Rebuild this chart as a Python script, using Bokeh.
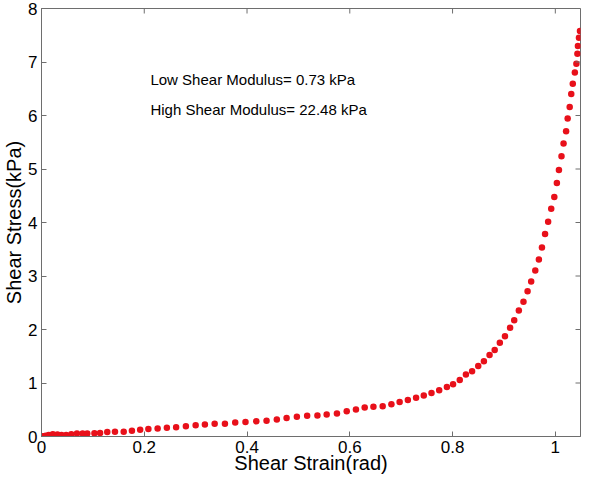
from bokeh.plotting import figure
from bokeh.models import Label, FixedTicker, ColumnDataSource
from bokeh.embed import file_html
from bokeh.resources import INLINE

strain = [0, 0.003, 0.008, 0.014, 0.022, 0.031, 0.039, 0.048, 0.058, 0.069,
          0.080, 0.089, 0.103, 0.114, 0.128, 0.143, 0.160, 0.176, 0.192, 0.208,
          0.226, 0.244, 0.262, 0.281, 0.300, 0.318, 0.337, 0.357, 0.377, 0.397,
          0.418, 0.438, 0.458, 0.477, 0.497, 0.517, 0.537, 0.555, 0.575, 0.594,
          0.612, 0.629, 0.646, 0.664, 0.681, 0.697, 0.713, 0.729, 0.744, 0.759,
          0.774, 0.789, 0.801, 0.814, 0.826, 0.838, 0.850, 0.861, 0.872, 0.882,
          0.892, 0.902, 0.912, 0.920, 0.929, 0.938, 0.946, 0.953, 0.961, 0.968,
          0.974, 0.980, 0.986, 0.992, 0.998, 1.003, 1.007, 1.012, 1.016, 1.021,
          1.024, 1.028, 1.031, 1.034, 1.038, 1.041, 1.043, 1.044, 1.046, 1.048]
stress = [0, 0.005, 0.012, 0.030, 0.042, 0.036, 0.030, 0.030, 0.042, 0.054,
          0.054, 0.054, 0.060, 0.066, 0.085, 0.091, 0.091, 0.109, 0.127, 0.139,
          0.151, 0.163, 0.175, 0.193, 0.211, 0.223, 0.236, 0.236, 0.260, 0.272,
          0.284, 0.296, 0.320, 0.344, 0.368, 0.386, 0.393, 0.411, 0.429, 0.471,
          0.507, 0.543, 0.556, 0.567, 0.604, 0.646, 0.682, 0.725, 0.767, 0.815,
          0.864, 0.924, 0.978, 1.057, 1.160, 1.220, 1.316, 1.407, 1.522, 1.618,
          1.751, 1.872, 2.035, 2.174, 2.355, 2.518, 2.717, 2.899, 3.104, 3.309,
          3.533, 3.786, 4.016, 4.257, 4.475, 4.740, 4.982, 5.236, 5.477, 5.707,
          5.942, 6.159, 6.401, 6.594, 6.806, 6.968, 7.156, 7.301, 7.452, 7.578]

x_ticks = [0, 0.2, 0.4, 0.6, 0.8, 1]
y_ticks = [0, 1, 2, 3, 4, 5, 6, 7, 8]
annotations = ["Low Shear Modulus= 0.73 kPa", "High Shear Modulus= 22.48 kPa"]

FONT = "Liberation Sans"
AXIS_GRAY = "#6e6e6e"
X_MAX = 1.049
Y_MAX = 8

p = figure(width=584, height=476, x_range=(0, X_MAX), y_range=(0, Y_MAX),
           output_backend="svg", toolbar_location=None,
           min_border_left=0, min_border_right=4, min_border_top=8,
           min_border_bottom=0)
p.grid.visible = False
p.outline_line_color = AXIS_GRAY
p.background_fill_color = "white"
p.border_fill_color = "white"

src = ColumnDataSource(dict(x=strain, y=stress))
p.scatter("x", "y", source=src, size=6.5, fill_color="#e8101a",
          line_color=None)

# box ticks on the top and right edges (MATLAB style), clipped to the frame
p.scatter(x_ticks, [Y_MAX] * len(x_ticks), marker="dash", angle=1.5708,
          size=10, line_color=AXIS_GRAY, line_width=1)
p.scatter([X_MAX] * len(y_ticks), y_ticks, marker="dash",
          size=10, line_color=AXIS_GRAY, line_width=1)

xa = p.xaxis[0]
ya = p.yaxis[0]
for ax in (xa, ya):
    ax.axis_line_color = AXIS_GRAY
    ax.major_tick_line_color = AXIS_GRAY
    ax.major_tick_in = 5
    ax.major_tick_out = 0
    ax.minor_tick_line_color = None
    ax.major_label_text_font = FONT
    ax.major_label_text_color = "black"
    ax.major_label_text_font_size = "17px"
    ax.axis_label_text_font = FONT
    ax.axis_label_text_font_size = "20px"
    ax.axis_label_text_font_style = "normal"
    ax.axis_label_text_color = "black"
    ax.axis_label_standoff = 0
xa.ticker = FixedTicker(ticks=x_ticks)
ya.ticker = FixedTicker(ticks=y_ticks)
xa.axis_label = "Shear Strain(rad)"
ya.axis_label = "Shear Stress(kPa)"
xa.major_label_standoff = 4
xa.axis_label_standoff = -4
ya.major_label_standoff = 4

p.add_layout(Label(x=0.212, y=6.67, text=annotations[0], text_font=FONT,
                   text_font_size="15px", text_baseline="middle",
                   text_color="black"))
p.add_layout(Label(x=0.212, y=6.12, text=annotations[1], text_font=FONT,
                   text_font_size="15px", text_baseline="middle",
                   text_color="black"))

open("out.html", "w").write(file_html(p, INLINE))
